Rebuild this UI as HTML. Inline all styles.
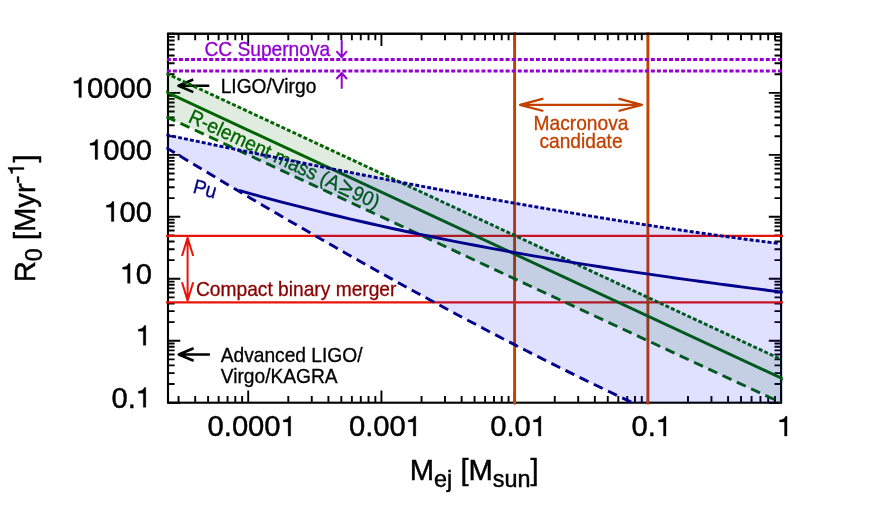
<!DOCTYPE html><html><head><meta charset="utf-8"><style>html,body{margin:0;padding:0;background:#fff;overflow:hidden}svg{display:block;will-change:transform;opacity:0.9999}text{font-family:"Liberation Sans",sans-serif}</style></head><body>
<svg width="872" height="523" viewBox="0 0 872 523">
<rect width="872" height="523" fill="#fff"/>
<defs><clipPath id="cp"><rect x="168.00" y="33.75" width="613.10" height="368.95"/></clipPath>
<clipPath id="cq"><rect x="166.25" y="32.00" width="616.60" height="372.45"/></clipPath></defs>
<path d="M178.55,402.70 v-6.60 M178.55,33.75 v6.60 M195.19,402.70 v-6.60 M195.19,33.75 v6.60 M208.10,402.70 v-6.60 M208.10,33.75 v6.60 M218.65,402.70 v-6.60 M218.65,33.75 v6.60 M227.57,402.70 v-6.60 M227.57,33.75 v6.60 M235.30,402.70 v-6.60 M235.30,33.75 v6.60 M242.11,402.70 v-6.60 M242.11,33.75 v6.60 M248.21,402.70 v-12.30 M248.21,33.75 v12.30 M288.31,402.70 v-6.60 M288.31,33.75 v6.60 M311.77,402.70 v-6.60 M311.77,33.75 v6.60 M328.42,402.70 v-6.60 M328.42,33.75 v6.60 M341.33,402.70 v-6.60 M341.33,33.75 v6.60 M351.88,402.70 v-6.60 M351.88,33.75 v6.60 M360.79,402.70 v-6.60 M360.79,33.75 v6.60 M368.52,402.70 v-6.60 M368.52,33.75 v6.60 M375.34,402.70 v-6.60 M375.34,33.75 v6.60 M381.43,402.70 v-12.30 M381.43,33.75 v12.30 M421.54,402.70 v-6.60 M421.54,33.75 v6.60 M444.99,402.70 v-6.60 M444.99,33.75 v6.60 M461.64,402.70 v-6.60 M461.64,33.75 v6.60 M474.55,402.70 v-6.60 M474.55,33.75 v6.60 M485.10,402.70 v-6.60 M485.10,33.75 v6.60 M494.02,402.70 v-6.60 M494.02,33.75 v6.60 M501.74,402.70 v-6.60 M501.74,33.75 v6.60 M508.56,402.70 v-6.60 M508.56,33.75 v6.60 M514.65,402.70 v-12.30 M514.65,33.75 v12.30 M554.76,402.70 v-6.60 M554.76,33.75 v6.60 M578.22,402.70 v-6.60 M578.22,33.75 v6.60 M594.86,402.70 v-6.60 M594.86,33.75 v6.60 M607.77,402.70 v-6.60 M607.77,33.75 v6.60 M618.32,402.70 v-6.60 M618.32,33.75 v6.60 M627.24,402.70 v-6.60 M627.24,33.75 v6.60 M634.97,402.70 v-6.60 M634.97,33.75 v6.60 M641.78,402.70 v-6.60 M641.78,33.75 v6.60 M647.88,402.70 v-12.30 M647.88,33.75 v12.30 M687.98,402.70 v-6.60 M687.98,33.75 v6.60 M711.44,402.70 v-6.60 M711.44,33.75 v6.60 M728.09,402.70 v-6.60 M728.09,33.75 v6.60 M741.00,402.70 v-6.60 M741.00,33.75 v6.60 M751.54,402.70 v-6.60 M751.54,33.75 v6.60 M760.46,402.70 v-6.60 M760.46,33.75 v6.60 M768.19,402.70 v-6.60 M768.19,33.75 v6.60 M775.00,402.70 v-6.60 M775.00,33.75 v6.60 M781.10,402.70 v-12.30 M781.10,33.75 v12.30 M168.00,402.70 h12.30 M781.10,402.70 h-12.30 M168.00,384.05 h6.60 M781.10,384.05 h-6.60 M168.00,373.14 h6.60 M781.10,373.14 h-6.60 M168.00,365.39 h6.60 M781.10,365.39 h-6.60 M168.00,359.39 h6.60 M781.10,359.39 h-6.60 M168.00,354.48 h6.60 M781.10,354.48 h-6.60 M168.00,350.33 h6.60 M781.10,350.33 h-6.60 M168.00,346.74 h6.60 M781.10,346.74 h-6.60 M168.00,343.57 h6.60 M781.10,343.57 h-6.60 M168.00,340.74 h12.30 M781.10,340.74 h-12.30 M168.00,322.08 h6.60 M781.10,322.08 h-6.60 M168.00,311.17 h6.60 M781.10,311.17 h-6.60 M168.00,303.43 h6.60 M781.10,303.43 h-6.60 M168.00,297.42 h6.60 M781.10,297.42 h-6.60 M168.00,292.52 h6.60 M781.10,292.52 h-6.60 M168.00,288.37 h6.60 M781.10,288.37 h-6.60 M168.00,284.78 h6.60 M781.10,284.78 h-6.60 M168.00,281.61 h6.60 M781.10,281.61 h-6.60 M168.00,278.77 h12.30 M781.10,278.77 h-12.30 M168.00,260.12 h6.60 M781.10,260.12 h-6.60 M168.00,249.21 h6.60 M781.10,249.21 h-6.60 M168.00,241.47 h6.60 M781.10,241.47 h-6.60 M168.00,235.46 h6.60 M781.10,235.46 h-6.60 M168.00,230.55 h6.60 M781.10,230.55 h-6.60 M168.00,226.41 h6.60 M781.10,226.41 h-6.60 M168.00,222.81 h6.60 M781.10,222.81 h-6.60 M168.00,219.64 h6.60 M781.10,219.64 h-6.60 M168.00,216.81 h12.30 M781.10,216.81 h-12.30 M168.00,198.15 h6.60 M781.10,198.15 h-6.60 M168.00,187.24 h6.60 M781.10,187.24 h-6.60 M168.00,179.50 h6.60 M781.10,179.50 h-6.60 M168.00,173.50 h6.60 M781.10,173.50 h-6.60 M168.00,168.59 h6.60 M781.10,168.59 h-6.60 M168.00,164.44 h6.60 M781.10,164.44 h-6.60 M168.00,160.85 h6.60 M781.10,160.85 h-6.60 M168.00,157.68 h6.60 M781.10,157.68 h-6.60 M168.00,154.84 h12.30 M781.10,154.84 h-12.30 M168.00,136.19 h6.60 M781.10,136.19 h-6.60 M168.00,125.28 h6.60 M781.10,125.28 h-6.60 M168.00,117.54 h6.60 M781.10,117.54 h-6.60 M168.00,111.53 h6.60 M781.10,111.53 h-6.60 M168.00,106.63 h6.60 M781.10,106.63 h-6.60 M168.00,102.48 h6.60 M781.10,102.48 h-6.60 M168.00,98.88 h6.60 M781.10,98.88 h-6.60 M168.00,95.71 h6.60 M781.10,95.71 h-6.60 M168.00,92.88 h12.30 M781.10,92.88 h-12.30 M168.00,74.23 h6.60 M781.10,74.23 h-6.60 M168.00,63.31 h6.60 M781.10,63.31 h-6.60 M168.00,55.57 h6.60 M781.10,55.57 h-6.60 M168.00,49.57 h6.60 M781.10,49.57 h-6.60 M168.00,44.66 h6.60 M781.10,44.66 h-6.60 M168.00,40.51 h6.60 M781.10,40.51 h-6.60 M168.00,36.92 h6.60 M781.10,36.92 h-6.60 M168.00,33.75 h6.60 M781.10,33.75 h-6.60" stroke="#000" stroke-width="1.9" fill="none"/>
<rect x="168.00" y="33.75" width="613.10" height="368.95" fill="none" stroke="#000" stroke-width="2.1"/>
<text transform="translate(204.40,55.50) scale(1,1.06)" font-size="19.2" fill="#9400D3" stroke="#9400D3" stroke-width="0.3" text-anchor="start">CC Supernova</text>
<path d="M341.7,40.3 V57.2 M336.4,51.2 L341.7,57.2 L347,51.2 M341.7,88.8 V73 M336.4,79 L341.7,73 L347,79" stroke="#9400D3" stroke-width="2" stroke-linejoin="round" fill="none"/>
<text transform="translate(220.70,92.75) scale(1,1.06)" font-size="19.2" fill="#000" stroke="#000" stroke-width="0.3" text-anchor="start">LIGO/Virgo</text>
<path d="M209.3,85.8 H178.5 M193.3,79.5 L178.5,85.8 L193.3,92.1" stroke="#000" stroke-width="2.6" stroke-linejoin="round" fill="none"/>
<text transform="translate(220.70,362.30) scale(1,1.06)" font-size="19.2" fill="#000" stroke="#000" stroke-width="0.3" text-anchor="start">Advanced LIGO/</text>
<text transform="translate(220.70,382.50) scale(1,1.06)" font-size="19.2" fill="#000" stroke="#000" stroke-width="0.3" text-anchor="start">Virgo/KAGRA</text>
<path d="M209.9,354.5 H178.8 M193.6,348.2 L178.8,354.5 L193.6,360.8" stroke="#000" stroke-width="2.6" stroke-linejoin="round" fill="none"/>
<text transform="translate(581.00,130.30) scale(1,1.06)" font-size="19.2" fill="#C24100" stroke="#C24100" stroke-width="0.3" text-anchor="middle">Macronova</text>
<text transform="translate(581.00,148.30) scale(1,1.06)" font-size="19.2" fill="#C24100" stroke="#C24100" stroke-width="0.3" text-anchor="middle">candidate</text>
<path d="M520,104.8 H641.9 M543.4,98.6 L520,104.8 L543.4,111 M618.5,98.6 L641.9,104.8 L618.5,111" stroke="#C24100" stroke-width="2.3" stroke-linejoin="round" fill="none"/>
<text transform="translate(196.00,296.40) scale(1,1.06)" font-size="19.2" fill="#8B0000" stroke="#8B0000" stroke-width="0.3" text-anchor="start">Compact binary merger</text>
<path d="M187.6,237.7 V300.6 M182,256 L187.6,237.7 L193.2,256 M182,282.3 L187.6,300.6 L193.2,282.3" stroke="#E8140A" stroke-width="2" stroke-linejoin="round" fill="none"/>
<text transform="translate(192.00,192.40) rotate(15) scale(1,1.06)" font-size="19.2" fill="#00008B" stroke="#00008B" stroke-width="0.3" text-anchor="start">Pu</text>
<text transform="translate(187.20,121.50) rotate(25) scale(1,1.06)" font-size="19.2" fill="#006400" stroke="#006400" stroke-width="0.3" text-anchor="start">R-element mass (A<tspan font-size="23.5" dx="1.6" dy="0.6">≥</tspan><tspan dx="1.6" dy="-0.6">90)</tspan></text>
<line x1="166" y1="235.90" x2="783" y2="235.90" stroke="#E8140A" stroke-width="2.3"/>
<line x1="166" y1="302.40" x2="783" y2="302.40" stroke="#E8140A" stroke-width="2.3"/>
<line x1="514.60" y1="32.3" x2="514.60" y2="404.4" stroke="#C24100" stroke-width="2.9"/>
<line x1="647.90" y1="32.3" x2="647.90" y2="404.4" stroke="#C24100" stroke-width="2.9"/>
<path clip-path="url(#cp)" d="M166.00,73.30 L783.10,360.32 L783.10,403.63 L166.00,116.61 Z" fill="#006400" fill-opacity="0.12"/>
<g clip-path="url(#cq)" fill="none" stroke-width="2.9">
<line x1="166.85" y1="59.50" x2="783.10" y2="59.50" stroke="#9400D3" stroke-dasharray="4 2.05" stroke-dashoffset="0.00"/>
<line x1="166.85" y1="71.00" x2="783.10" y2="71.00" stroke="#9400D3" stroke-dasharray="4 2.05" stroke-dashoffset="0.00"/>
<line x1="166.30" y1="73.44" x2="781.10" y2="359.39" stroke="#006400" stroke-dasharray="4 2.05" stroke-dashoffset="0.00"/>
<line x1="165.00" y1="91.48" x2="784.10" y2="379.44" stroke="#006400"/>
<line x1="166.30" y1="116.75" x2="780.60" y2="402.47" stroke="#006400" stroke-dasharray="9.85 5.88" stroke-dashoffset="0.00"/>
</g>
<path clip-path="url(#cp)" d="M166.00,134.80 C168.64,135.35 176.55,137.02 181.82,138.12 C187.10,139.23 192.37,140.33 197.65,141.43 C202.92,142.54 208.19,143.64 213.47,144.73 C218.74,145.83 224.02,146.92 229.29,148.01 C234.57,149.11 239.84,150.19 245.12,151.28 C250.39,152.36 255.66,153.45 260.94,154.53 C266.21,155.61 271.49,156.68 276.76,157.75 C282.04,158.83 287.31,159.90 292.58,160.96 C297.86,162.03 303.13,163.09 308.41,164.15 C313.68,165.20 318.96,166.26 324.23,167.31 C329.51,168.36 334.78,169.41 340.05,170.45 C345.33,171.49 350.60,172.53 355.88,173.56 C361.15,174.60 366.43,175.63 371.70,176.65 C376.97,177.68 382.25,178.70 387.52,179.71 C392.80,180.73 398.07,181.74 403.35,182.74 C408.62,183.75 413.89,184.75 419.17,185.75 C424.44,186.74 429.72,187.73 434.99,188.72 C440.27,189.70 445.54,190.69 450.82,191.66 C456.09,192.63 461.36,193.60 466.64,194.57 C471.91,195.53 477.19,196.49 482.46,197.44 C487.74,198.39 493.01,199.34 498.28,200.28 C503.56,201.22 508.83,202.15 514.11,203.08 C519.38,204.01 524.66,204.93 529.93,205.85 C535.21,206.76 540.48,207.67 545.75,208.57 C551.03,209.47 556.30,210.37 561.58,211.26 C566.85,212.15 572.13,213.03 577.40,213.90 C582.67,214.78 587.95,215.65 593.22,216.51 C598.50,217.37 603.77,218.22 609.05,219.07 C614.32,219.91 619.59,220.75 624.87,221.58 C630.14,222.41 635.42,223.24 640.69,224.05 C645.97,224.87 651.24,225.68 656.52,226.48 C661.79,227.28 667.06,228.07 672.34,228.85 C677.61,229.63 682.89,230.41 688.16,231.18 C693.44,231.95 698.71,232.70 703.98,233.45 C709.26,234.21 714.53,234.95 719.81,235.68 C725.08,236.41 730.36,237.14 735.63,237.85 C740.91,238.57 746.18,239.28 751.45,239.97 C756.73,240.67 762.00,241.36 767.28,242.04 C772.55,242.72 780.46,243.71 783.10,244.05 L783.10,407.70 L640.00,406.21 C637.97,405.26 631.90,402.43 627.85,400.52 C623.79,398.62 619.74,396.70 615.69,394.77 C611.64,392.85 607.59,390.91 603.54,388.96 C599.49,387.02 595.44,385.06 591.38,383.09 C587.33,381.13 583.28,379.15 579.23,377.16 C575.18,375.18 571.13,373.18 567.08,371.18 C563.03,369.17 558.97,367.16 554.92,365.14 C550.87,363.11 546.82,361.08 542.77,359.04 C538.72,357.00 534.67,354.95 530.62,352.89 C526.56,350.83 522.51,348.76 518.46,346.68 C514.41,344.60 510.36,342.51 506.31,340.42 C502.26,338.32 498.21,336.22 494.15,334.11 C490.10,331.99 486.05,329.87 482.00,327.74 C477.95,325.62 473.90,323.48 469.85,321.33 C465.79,319.19 461.74,317.03 457.69,314.87 C453.64,312.71 449.59,310.54 445.54,308.36 C441.49,306.18 437.44,304.00 433.38,301.80 C429.33,299.61 425.28,297.41 421.23,295.20 C417.18,292.99 413.13,290.77 409.08,288.55 C405.03,286.33 400.97,284.10 396.92,281.86 C392.87,279.62 388.82,277.37 384.77,275.12 C380.72,272.87 376.67,270.61 372.62,268.34 C368.56,266.08 364.51,263.80 360.46,261.52 C356.41,259.24 352.36,256.95 348.31,254.66 C344.26,252.37 340.21,250.07 336.15,247.76 C332.10,245.45 328.05,243.14 324.00,240.82 C319.95,238.50 315.90,236.18 311.85,233.84 C307.79,231.51 303.74,229.17 299.69,226.83 C295.64,224.49 291.59,222.14 287.54,219.78 C283.49,217.42 279.44,215.06 275.38,212.70 C271.33,210.33 267.28,207.96 263.23,205.58 C259.18,203.20 255.13,200.81 251.08,198.43 C247.03,196.04 242.97,193.64 238.92,191.24 C234.87,188.84 230.82,186.44 226.77,184.03 C222.72,181.62 218.67,179.20 214.62,176.78 C210.56,174.36 206.51,171.94 202.46,169.51 C198.41,167.08 194.36,164.64 190.31,162.21 C186.26,159.77 182.21,157.32 178.15,154.88 C174.10,152.43 168.03,148.75 166.00,147.52 Z" fill="#0000ff" fill-opacity="0.12"/>
<g clip-path="url(#cq)" fill="none" stroke-width="2.9">
<path d="M166.20,134.84 C168.82,135.39 176.69,137.04 181.93,138.14 C187.17,139.24 192.41,140.34 197.66,141.44 C202.90,142.53 208.14,143.62 213.38,144.71 C218.63,145.80 223.87,146.89 229.11,147.98 C234.36,149.06 239.60,150.14 244.84,151.22 C250.08,152.30 255.33,153.38 260.57,154.45 C265.81,155.52 271.05,156.59 276.30,157.66 C281.54,158.73 286.78,159.79 292.03,160.85 C297.27,161.91 302.51,162.96 307.75,164.02 C313.00,165.07 318.24,166.12 323.48,167.16 C328.72,168.20 333.97,169.25 339.21,170.28 C344.45,171.32 349.70,172.35 354.94,173.38 C360.18,174.41 365.42,175.43 370.67,176.45 C375.91,177.47 381.15,178.48 386.39,179.49 C391.64,180.50 396.88,181.51 402.12,182.51 C407.37,183.51 412.61,184.51 417.85,185.50 C423.09,186.49 428.34,187.47 433.58,188.46 C438.82,189.44 444.06,190.41 449.31,191.38 C454.55,192.35 459.79,193.32 465.04,194.27 C470.28,195.23 475.52,196.19 480.76,197.13 C486.01,198.08 491.25,199.02 496.49,199.96 C501.74,200.90 506.98,201.83 512.22,202.75 C517.46,203.67 522.71,204.59 527.95,205.50 C533.19,206.41 538.43,207.32 543.68,208.22 C548.92,209.11 554.16,210.01 559.41,210.89 C564.65,211.78 569.89,212.65 575.13,213.53 C580.38,214.40 585.62,215.26 590.86,216.12 C596.10,216.98 601.35,217.83 606.59,218.67 C611.83,219.51 617.08,220.35 622.32,221.18 C627.56,222.01 632.80,222.83 638.05,223.64 C643.29,224.46 648.53,225.26 653.77,226.06 C659.02,226.86 664.26,227.65 669.50,228.43 C674.75,229.21 679.99,229.98 685.23,230.75 C690.47,231.52 695.72,232.27 700.96,233.02 C706.20,233.77 711.44,234.51 716.69,235.25 C721.93,235.98 727.17,236.70 732.42,237.42 C737.66,238.13 742.90,238.84 748.14,239.54 C753.39,240.23 758.63,240.92 763.87,241.60 C769.11,242.28 776.98,243.27 779.60,243.61" stroke="#00008B" stroke-dasharray="4 2.05" stroke-dashoffset="0.00"/>
<path d="M166.20,147.64 C168.20,148.85 174.20,152.49 178.19,154.90 C182.19,157.32 186.19,159.73 190.19,162.14 C194.19,164.54 198.19,166.94 202.18,169.34 C206.18,171.74 210.18,174.13 214.18,176.52 C218.18,178.91 222.18,181.29 226.17,183.67 C230.17,186.05 234.17,188.43 238.17,190.80 C242.17,193.16 246.17,195.53 250.16,197.89 C254.16,200.25 258.16,202.60 262.16,204.95 C266.16,207.30 270.16,209.64 274.15,211.98 C278.15,214.31 282.15,216.65 286.15,218.97 C290.15,221.30 294.15,223.62 298.14,225.93 C302.14,228.25 306.14,230.56 310.14,232.86 C314.14,235.16 318.14,237.46 322.13,239.75 C326.13,242.04 330.13,244.33 334.13,246.61 C338.13,248.88 342.12,251.16 346.12,253.42 C350.12,255.69 354.12,257.95 358.12,260.20 C362.12,262.45 366.11,264.70 370.11,266.94 C374.11,269.18 378.11,271.41 382.11,273.64 C386.11,275.87 390.10,278.09 394.10,280.30 C398.10,282.51 402.10,284.72 406.10,286.91 C410.10,289.11 414.09,291.30 418.09,293.49 C422.09,295.67 426.09,297.85 430.09,300.02 C434.09,302.18 438.08,304.35 442.08,306.50 C446.08,308.65 450.08,310.80 454.08,312.94 C458.08,315.08 462.07,317.21 466.07,319.33 C470.07,321.45 474.07,323.57 478.07,325.67 C482.06,327.78 486.06,329.88 490.06,331.97 C494.06,334.06 498.06,336.14 502.06,338.22 C506.05,340.29 510.05,342.36 514.05,344.41 C518.05,346.47 522.05,348.52 526.05,350.56 C530.04,352.60 534.04,354.63 538.04,356.65 C542.04,358.67 546.04,360.69 550.04,362.69 C554.03,364.70 558.03,366.69 562.03,368.68 C566.03,370.66 570.03,372.64 574.03,374.61 C578.02,376.58 582.02,378.53 586.02,380.48 C590.02,382.43 594.02,384.37 598.02,386.30 C602.01,388.23 606.01,390.15 610.01,392.06 C614.01,393.97 618.01,395.87 622.01,397.77 C626.00,399.66 632.00,402.47 634.00,403.41" stroke="#00008B" stroke-dasharray="9.87 5.9"/>
<path d="M239.00,190.46 C241.32,191.11 248.30,193.05 252.95,194.33 C257.59,195.61 262.24,196.87 266.89,198.11 C271.54,199.36 276.19,200.59 280.84,201.81 C285.49,203.03 290.14,204.23 294.78,205.42 C299.43,206.61 304.08,207.78 308.73,208.95 C313.38,210.11 318.03,211.26 322.68,212.40 C327.33,213.53 331.97,214.65 336.62,215.76 C341.27,216.87 345.92,217.97 350.57,219.05 C355.22,220.14 359.87,221.21 364.52,222.27 C369.16,223.33 373.81,224.38 378.46,225.41 C383.11,226.45 387.76,227.47 392.41,228.48 C397.06,229.49 401.71,230.49 406.35,231.48 C411.00,232.47 415.65,233.45 420.30,234.41 C424.95,235.38 429.60,236.33 434.25,237.27 C438.89,238.22 443.54,239.15 448.19,240.07 C452.84,240.99 457.49,241.91 462.14,242.81 C466.79,243.71 471.44,244.60 476.08,245.48 C480.73,246.36 485.38,247.23 490.03,248.09 C494.68,248.95 499.33,249.81 503.98,250.65 C508.63,251.49 513.27,252.32 517.92,253.15 C522.57,253.97 527.22,254.79 531.87,255.59 C536.52,256.40 541.17,257.19 545.82,257.98 C550.46,258.77 555.11,259.55 559.76,260.32 C564.41,261.09 569.06,261.86 573.71,262.61 C578.36,263.37 583.01,264.11 587.65,264.85 C592.30,265.59 596.95,266.33 601.60,267.05 C606.25,267.78 610.90,268.49 615.55,269.20 C620.19,269.91 624.84,270.62 629.49,271.31 C634.14,272.01 638.79,272.70 643.44,273.38 C648.09,274.07 652.74,274.74 657.38,275.41 C662.03,276.08 666.68,276.75 671.33,277.40 C675.98,278.06 680.63,278.72 685.28,279.36 C689.93,280.01 694.57,280.65 699.22,281.29 C703.87,281.92 708.52,282.55 713.17,283.18 C717.82,283.80 722.47,284.42 727.12,285.04 C731.76,285.65 736.41,286.27 741.06,286.87 C745.71,287.48 750.36,288.08 755.01,288.68 C759.66,289.28 764.31,289.87 768.95,290.46 C773.60,291.05 780.58,291.92 782.90,292.22" stroke="#00008B"/>
</g>
<line x1="166.95" y1="33.75" x2="782.15" y2="33.75" stroke="#000" stroke-width="2.1"/>
<path transform="translate(70.92,97.48) scale(0.02920,0.02806)" d="M359,0 L359,-709 L301,-709 C290,-640 235,-590 101,-574 L101,-505 L271,-505 L271,0 Z" fill="#000" stroke="#000" stroke-width="10.3"/>
<text transform="translate(87.06,97.68) scale(1,1.04)" font-size="29.2" stroke="#000" stroke-width="0.45">0000</text>
<path transform="translate(87.16,159.44) scale(0.02920,0.02806)" d="M359,0 L359,-709 L301,-709 C290,-640 235,-590 101,-574 L101,-505 L271,-505 L271,0 Z" fill="#000" stroke="#000" stroke-width="10.3"/>
<text transform="translate(103.29,159.64) scale(1,1.04)" font-size="29.2" stroke="#000" stroke-width="0.45">000</text>
<path transform="translate(103.39,221.41) scale(0.02920,0.02806)" d="M359,0 L359,-709 L301,-709 C290,-640 235,-590 101,-574 L101,-505 L271,-505 L271,0 Z" fill="#000" stroke="#000" stroke-width="10.3"/>
<text transform="translate(119.53,221.61) scale(1,1.04)" font-size="29.2" stroke="#000" stroke-width="0.45">00</text>
<path transform="translate(119.63,283.37) scale(0.02920,0.02806)" d="M359,0 L359,-709 L301,-709 C290,-640 235,-590 101,-574 L101,-505 L271,-505 L271,0 Z" fill="#000" stroke="#000" stroke-width="10.3"/>
<text transform="translate(135.76,283.57) scale(1,1.04)" font-size="29.2" stroke="#000" stroke-width="0.45">0</text>
<path transform="translate(135.36,345.34) scale(0.02920,0.02806)" d="M359,0 L359,-709 L301,-709 C290,-640 235,-590 101,-574 L101,-505 L271,-505 L271,0 Z" fill="#000" stroke="#000" stroke-width="10.3"/>
<text transform="translate(111.41,407.50) scale(1,1.04)" font-size="29.2" stroke="#000" stroke-width="0.45">0.</text>
<path transform="translate(135.36,407.30) scale(0.02920,0.02806)" d="M359,0 L359,-709 L301,-709 C290,-640 235,-590 101,-574 L101,-505 L271,-505 L271,0 Z" fill="#000" stroke="#000" stroke-width="10.3"/>
<text transform="translate(207.56,436.30) scale(1,1.04)" font-size="29.2" stroke="#000" stroke-width="0.45">0.000</text>
<path transform="translate(280.22,436.10) scale(0.02920,0.02806)" d="M359,0 L359,-709 L301,-709 C290,-640 235,-590 101,-574 L101,-505 L271,-505 L271,0 Z" fill="#000" stroke="#000" stroke-width="10.3"/>
<text transform="translate(348.90,436.30) scale(1,1.04)" font-size="29.2" stroke="#000" stroke-width="0.45">0.00</text>
<path transform="translate(405.33,436.10) scale(0.02920,0.02806)" d="M359,0 L359,-709 L301,-709 C290,-640 235,-590 101,-574 L101,-505 L271,-505 L271,0 Z" fill="#000" stroke="#000" stroke-width="10.3"/>
<text transform="translate(490.24,436.30) scale(1,1.04)" font-size="29.2" stroke="#000" stroke-width="0.45">0.0</text>
<path transform="translate(530.43,436.10) scale(0.02920,0.02806)" d="M359,0 L359,-709 L301,-709 C290,-640 235,-590 101,-574 L101,-505 L271,-505 L271,0 Z" fill="#000" stroke="#000" stroke-width="10.3"/>
<text transform="translate(631.58,436.30) scale(1,1.04)" font-size="29.2" stroke="#000" stroke-width="0.45">0.</text>
<path transform="translate(655.54,436.10) scale(0.02920,0.02806)" d="M359,0 L359,-709 L301,-709 C290,-640 235,-590 101,-574 L101,-505 L271,-505 L271,0 Z" fill="#000" stroke="#000" stroke-width="10.3"/>
<path transform="translate(776.58,436.10) scale(0.02920,0.02806)" d="M359,0 L359,-709 L301,-709 C290,-640 235,-590 101,-574 L101,-505 L271,-505 L271,0 Z" fill="#000" stroke="#000" stroke-width="10.3"/>
<text transform="translate(409.80,480.00) scale(1,1.04)" font-size="29.2" fill="#000" stroke="#000" stroke-width="0.45" text-anchor="start">M<tspan font-size="23.4" dy="6.7">ej</tspan><tspan dy="-6.7"> [M</tspan><tspan font-size="23.4" dy="6.7">sun</tspan><tspan dy="-6.7">]</tspan></text>
<g transform="translate(35,282.3) rotate(-90)">
<text transform="scale(1,1.04)" font-size="29.2" stroke="#000" stroke-width="0.45">R<tspan font-size="23.4" dy="6.7">0</tspan><tspan dy="-6.7"> [Myr</tspan><tspan font-size="23.4" dy="-10.6">-</tspan></text>
<path transform="translate(106.47,-11.02) scale(0.02340,0.02249)" d="M359,0 L359,-709 L301,-709 C290,-640 235,-590 101,-574 L101,-505 L271,-505 L271,0 Z" fill="#000" stroke="#000" stroke-width="12.8"/>
<text transform="translate(119.78,0) scale(1,1.04)" font-size="29.2" stroke="#000" stroke-width="0.45">]</text>
</g>
</svg></body></html>
